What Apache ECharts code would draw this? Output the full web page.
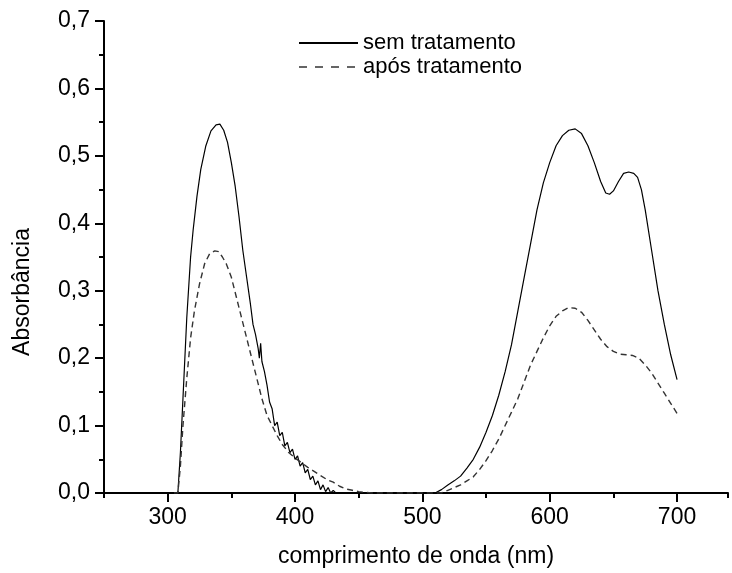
<!DOCTYPE html>
<html>
<head>
<meta charset="utf-8">
<script src="https://cdn.jsdelivr.net/npm/echarts@6/dist/echarts.min.js"></script>
<style>html,body{margin:0;padding:0;background:#fff}#c{width:732px;height:573px}</style>
</head>
<body>
<div id="c"></div>
<script>
// Data
const seriesNames = ['sem tratamento', 'após tratamento'];
const xTickLabels = [300, 400, 500, 600, 700];
const yTickLabels = ['0,0','0,1','0,2','0,3','0,4','0,5','0,6','0,7'];

const semWavelength = [305,308,310,312,315,318,320,323,326,330,334,338,341,344,347,350,353,356,359,362,365,367,369,371,372,373,374,376,378,380,382,384,386,388,390,392,394,396,398,400,402,404,406,408,410,412,414,416,418,420,422,424,426,428,430,432,470,508,510,515,520,525,530,535,540,545,550,555,560,565,570,575,580,585,590,595,600,605,610,615,620,625,630,635,640,644,647,650,654,658,662,666,669,672,675,680,685,690,695,700];
const semAbs = [0,0,0.06,0.14,0.26,0.35,0.39,0.44,0.48,0.515,0.537,0.546,0.547,0.538,0.52,0.49,0.455,0.41,0.36,0.32,0.28,0.25,0.235,0.215,0.20,0.222,0.195,0.18,0.16,0.135,0.125,0.10,0.105,0.085,0.09,0.07,0.075,0.06,0.065,0.05,0.055,0.04,0.045,0.03,0.035,0.02,0.025,0.012,0.018,0.005,0.012,0.002,0.008,0,0.004,0,0,0,0,0.005,0.012,0.018,0.025,0.037,0.05,0.068,0.09,0.115,0.145,0.18,0.22,0.27,0.32,0.37,0.42,0.46,0.49,0.515,0.53,0.538,0.54,0.533,0.515,0.49,0.462,0.445,0.443,0.448,0.462,0.474,0.476,0.474,0.468,0.45,0.42,0.36,0.30,0.25,0.205,0.168];

const aposWavelength = [305,308,310,312,315,318,321,325,329,333,337,340,343,346,350,354,358,362,366,370,374,378,382,386,390,395,400,405,410,415,420,425,430,435,440,445,450,455,460,490,515,520,525,530,535,540,545,550,555,560,565,570,575,580,585,590,595,600,605,610,615,620,625,630,635,640,645,650,655,660,665,670,675,680,685,690,695,700];
const aposAbs = [0,0,0.04,0.1,0.17,0.23,0.27,0.31,0.34,0.355,0.359,0.358,0.35,0.34,0.32,0.29,0.26,0.23,0.2,0.17,0.14,0.115,0.1,0.085,0.072,0.06,0.052,0.045,0.038,0.032,0.026,0.02,0.016,0.01,0.006,0.004,0.002,0.001,0,0,0,0.004,0.008,0.012,0.018,0.024,0.035,0.048,0.063,0.08,0.1,0.12,0.14,0.165,0.19,0.21,0.23,0.248,0.262,0.27,0.275,0.274,0.268,0.256,0.242,0.228,0.217,0.21,0.206,0.205,0.204,0.2,0.19,0.178,0.163,0.148,0.133,0.118];

const FONT = '"Liberation Sans", Arial, sans-serif';
const chart = echarts.init(document.getElementById('c'), null, {renderer: 'canvas'});
const pairs = (xs, ys) => xs.map((x, i) => [x, ys[i]]);

chart.setOption({
  animation: false,
  backgroundColor: '#fff',
  grid: {left: 104, right: 4, top: 21, bottom: 79, containLabel: false},
  legend: {
    orient: 'vertical', left: 293, top: 27, itemWidth: 59, itemHeight: 14, itemGap: 2,
    textStyle: {fontFamily: FONT, fontSize: 22, color: '#000'},
    itemStyle: {color: 'transparent', borderColor: 'transparent', borderWidth: 0, opacity: 0},
    data: [
      {name: seriesNames[0]},
      {name: seriesNames[1], lineStyle: {type: [8, 8], color: '#333', width: 1.4}}
    ]
  },
  xAxis: [{
    type: 'value', min: 250, max: 740, interval: 50,
    name: 'comprimento de onda (nm)', nameLocation: 'middle', nameGap: 52,
    nameTextStyle: {fontFamily: FONT, fontSize: 23, color: '#000'},
    axisLine: {show: true, onZero: false, lineStyle: {color: '#000', width: 2}},
    axisTick: {show: true, length: 5, lineStyle: {color: '#000', width: 2}},
    axisLabel: {customValues: xTickLabels, fontFamily: FONT, fontSize: 23, color: '#000', margin: 13},
    splitLine: {show: false}
  }, {
    type: 'value', min: 250, max: 740, position: 'bottom',
    axisLine: {show: false},
    axisTick: {show: true, customValues: xTickLabels, length: 9, lineStyle: {color: '#000', width: 2}},
    axisLabel: {show: false},
    splitLine: {show: false}
  }],
  yAxis: {
    type: 'value', min: 0, max: 0.7, interval: 0.1,
    name: 'Absorbância', nameLocation: 'middle', nameGap: 70,
    nameTextStyle: {fontFamily: FONT, fontSize: 23, color: '#000', padding: [0, 70, 0, 0]},
    axisLine: {show: true, lineStyle: {color: '#000', width: 2}},
    axisTick: {show: true, length: 9, lineStyle: {color: '#000', width: 2}},
    minorTick: {show: true, splitNumber: 2, length: 5, lineStyle: {color: '#000', width: 2}},
    axisLabel: {fontFamily: FONT, fontSize: 23, color: '#000', margin: 14,
      formatter: v => yTickLabels[Math.round(v * 10)]},
    splitLine: {show: false}, minorSplitLine: {show: false}
  },
  series: [{
    name: seriesNames[0], type: 'line', xAxisIndex: 0, symbol: 'none',
    data: pairs(semWavelength, semAbs),
    lineStyle: {color: '#000', width: 1.2, type: 'solid'},
    itemStyle: {color: '#000'}
  }, {
    name: seriesNames[1], type: 'line', xAxisIndex: 0, symbol: 'none',
    data: pairs(aposWavelength, aposAbs),
    lineStyle: {color: '#333', width: 1.4, type: [6, 4]},
    itemStyle: {color: '#333'}
  }]
});
</script>
</body>
</html>
